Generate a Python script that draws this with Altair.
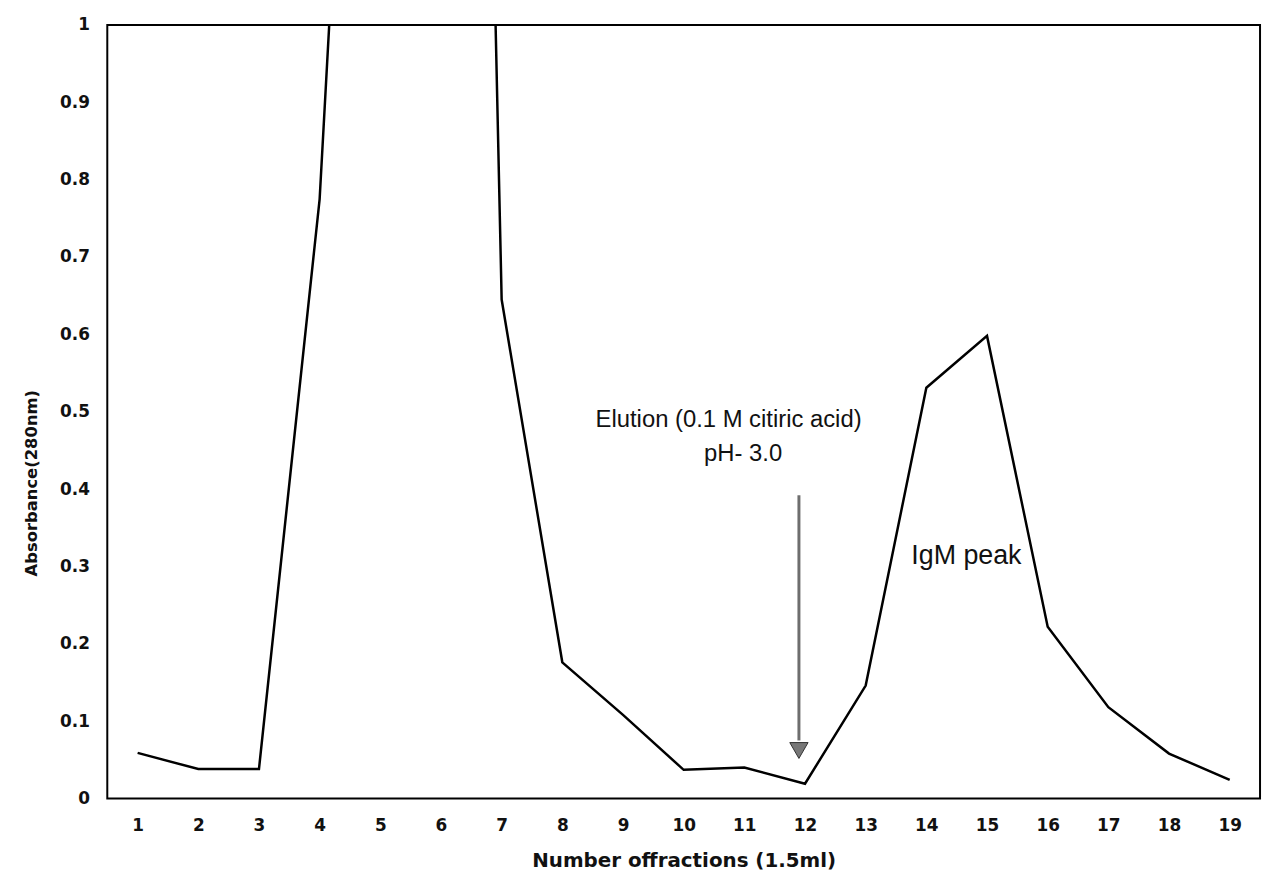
import altair as alt
import pandas as pd

# Data
fractions = list(range(1, 20))
absorbance = [0.059, 0.038, 0.038, 0.775, 2.2, 4.2, 0.645, 0.176, 0.108, 0.037,
              0.040, 0.019, 0.146, 0.531, 0.598, 0.222, 0.118, 0.058, 0.024]

y_ticks = [0, 0.1, 0.2, 0.3, 0.4, 0.5, 0.6, 0.7, 0.8, 0.9, 1]
x_ticks = list(range(1, 20))

# annotations (data coordinates)
ann_text = ["Elution (0.1 M citiric acid)", "pH- 3.0", "IgM peak"]
ann_x = [10.74, 10.98, 14.66]
ann_y = [0.480, 0.4365, 0.303]
ann_size = [24, 24, 27]

arrow_x = [11.9]
arrow_top = [0.392]
arrow_bottom = [0.075]
arrow_head_y = [0.062]

df = pd.DataFrame({"fraction": fractions, "absorbance": absorbance})
ann = pd.DataFrame({"text": ann_text, "x": ann_x, "y": ann_y, "size": ann_size})
arr = pd.DataFrame({"x": arrow_x, "y": arrow_top, "y2": arrow_bottom, "yh": arrow_head_y})

xscale = alt.Scale(domain=[0.5, 19.5], nice=False, zero=False)
yscale = alt.Scale(domain=[0, 1], nice=False)

xaxis = alt.Axis(values=x_ticks, format="d", title="Number offractions (1.5ml)",
                 labelFont="DejaVu Sans", labelFontSize=17, labelFontWeight="bold",
                 labelColor="#111", labelPadding=19, ticks=False, domain=False, grid=False,
                 titleFont="DejaVu Sans", titleFontSize=20, titleFontWeight="bold",
                 titleColor="#111", titlePadding=18, labelFlush=False)
yaxis = alt.Axis(values=y_ticks, format="~g", title="Absorbance(280nm)",
                 labelFont="DejaVu Sans", labelFontSize=17, labelFontWeight="bold",
                 labelColor="#111", labelPadding=18, ticks=False, domain=False, grid=False,
                 titleFont="DejaVu Sans", titleFontSize=16.5, titleFontWeight="bold",
                 titleColor="#111", titlePadding=20, titleY=461, labelFlush=False)

line = alt.Chart(df).mark_line(color="black", strokeWidth=2.5, clip=True).encode(
    x=alt.X("fraction:Q", scale=xscale, axis=xaxis),
    y=alt.Y("absorbance:Q", scale=yscale, axis=yaxis),
)

texts = alt.Chart(ann).mark_text(font="Liberation Sans", color="#111", baseline="alphabetic",
                                 align="center").encode(
    x=alt.X("x:Q", scale=xscale),
    y=alt.Y("y:Q", scale=yscale),
    text="text:N",
    size=alt.Size("size:Q", scale=None, legend=None),
)

shaft = alt.Chart(arr).mark_rule(color="#6e6e6e", strokeWidth=3).encode(
    x=alt.X("x:Q", scale=xscale),
    y=alt.Y("y:Q", scale=yscale),
    y2="y2:Q",
)

head = alt.Chart(arr).mark_point(shape="triangle-down", filled=True, fill="#777777",
                                 stroke="#333333", strokeWidth=1, size=340, opacity=1).encode(
    x=alt.X("x:Q", scale=xscale),
    y=alt.Y("yh:Q", scale=yscale),
)

chart = alt.layer(line, shaft, head, texts).properties(
    width=1161, height=779,
    padding={"left": 15, "top": 5, "right": 5, "bottom": 5},
).configure(background="white").configure_view(stroke="black", strokeWidth=2)

chart.save("out.html", embed_options={"renderer": "svg", "actions": False})
